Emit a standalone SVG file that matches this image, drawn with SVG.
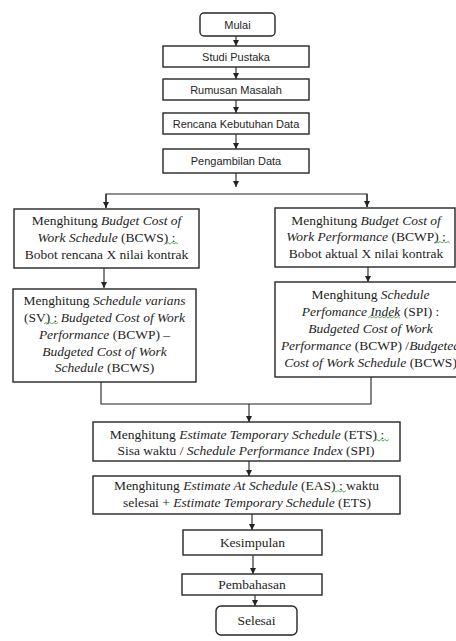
<svg xmlns="http://www.w3.org/2000/svg" width="456" height="641" viewBox="0 0 456 641">
<style>
  .box { fill: #ffffff; stroke: #262626; stroke-width: 1.4; }
  .sans { font-family: "Liberation Sans", Arial, sans-serif; font-size: 11px; fill: #262626; text-anchor: middle; }
  .serif { font-family: "Liberation Serif", "Times New Roman", serif; font-size: 13.5px; fill: #1e1e1e; text-anchor: middle; }
  .i { font-style: italic; }
  .conn { fill: none; stroke: #222222; stroke-width: 1.1; }
  .sq { fill: none; stroke: #3a9a3a; stroke-width: 0.8; }
</style>
<defs>
  <marker id="arr" viewBox="0 0 6 6" refX="6" refY="3" markerWidth="6" markerHeight="6" markerUnits="userSpaceOnUse" orient="auto">
    <path d="M0,0 L6,3 L0,6 z" fill="#222222"/>
  </marker>
</defs>
<rect width="456" height="641" fill="#ffffff"/>

<g id="connectors">
  <line class="conn" x1="236" y1="36" x2="236" y2="46" marker-end="url(#arr)"/>
  <line class="conn" x1="236" y1="67" x2="236" y2="79" marker-end="url(#arr)"/>
  <line class="conn" x1="236" y1="100" x2="236" y2="113" marker-end="url(#arr)"/>
  <line class="conn" x1="236" y1="134" x2="236" y2="149" marker-end="url(#arr)"/>
  <line class="conn" x1="236" y1="173" x2="236" y2="187" marker-end="url(#arr)"/>
  <polyline class="conn" points="106,208 106,194 367,194 367,207" />
  <line class="conn" x1="106" y1="194" x2="106" y2="208" marker-end="url(#arr)"/>
  <line class="conn" x1="367" y1="194" x2="367" y2="207" marker-end="url(#arr)"/>
  <line class="conn" x1="104" y1="268" x2="104" y2="288" marker-end="url(#arr)"/>
  <line class="conn" x1="368" y1="267" x2="368" y2="282" marker-end="url(#arr)"/>
  <polyline class="conn" points="101,382 101,404 371,404 371,377" />
  <line class="conn" x1="249" y1="404" x2="249" y2="422" marker-end="url(#arr)"/>
  <line class="conn" x1="249" y1="461" x2="249" y2="476" marker-end="url(#arr)"/>
  <line class="conn" x1="252" y1="514" x2="252" y2="530" marker-end="url(#arr)"/>
  <line class="conn" x1="253" y1="555" x2="253" y2="574" marker-end="url(#arr)"/>
  <line class="conn" x1="255" y1="595" x2="255" y2="606" marker-end="url(#arr)"/>
</g>

<g id="mulai">
  <rect class="box" x="200" y="13" width="75" height="23" rx="4"/>
  <text class="sans" x="237.5" y="28.5">Mulai</text>
</g>
<g id="studi-pustaka">
  <rect class="box" x="163" y="46" width="146" height="21"/>
  <text class="sans" x="236" y="60.5">Studi Pustaka</text>
</g>
<g id="rumusan-masalah">
  <rect class="box" x="163" y="79" width="146" height="21"/>
  <text class="sans" x="236" y="93.5">Rumusan Masalah</text>
</g>
<g id="rencana-kebutuhan-data">
  <rect class="box" x="163" y="113" width="146" height="21"/>
  <text class="sans" x="236" y="127.5">Rencana Kebutuhan Data</text>
</g>
<g id="pengambilan-data">
  <rect class="box" x="163" y="149" width="146" height="24"/>
  <text class="sans" x="236" y="165">Pengambilan Data</text>
</g>

<g id="bcws">
  <rect class="box" x="14" y="209" width="185" height="59"/>
  <text class="serif" x="106.5" y="225">Menghitung <tspan class="i">Budget Cost of</tspan></text>
  <text class="serif" x="106.5" y="242"><tspan class="i">Work Schedule</tspan> (BCWS) :</text>
  <text class="serif" x="106.5" y="259">Bobot rencana X nilai kontrak</text>
  <path class="sq" d="M166,244 l2,-1.5 l2,1.5 l2,-1.5 l2,1.5 l2,-1.5 l2,1.5"/>
</g>

<g id="bcwp">
  <rect class="box" x="275" y="208" width="180" height="59"/>
  <text class="serif" x="366" y="225">Menghitung <tspan class="i">Budget Cost of</tspan></text>
  <text class="serif" x="366" y="241"><tspan class="i">Work Performance</tspan> (BCWP) :</text>
  <text class="serif" x="366" y="258">Bobot aktual X nilai kontrak</text>
  <path class="sq" d="M434,243 l2,-1.5 l2,1.5 l2,-1.5 l2,1.5 l2,-1.5 l2,1.5 l2,-1.5 l2,1.5"/>
</g>

<g id="sv">
  <rect class="box" x="13" y="289" width="183" height="93"/>
  <text class="serif" x="104.5" y="305">Menghitung <tspan class="i">Schedule varians</tspan></text>
  <text class="serif" x="104.5" y="322">(SV) : <tspan class="i">Budgeted Cost of Work</tspan></text>
  <text class="serif" x="104.5" y="339"><tspan class="i">Performance</tspan> (BCWP) –</text>
  <text class="serif" x="104.5" y="356"><tspan class="i">Budgeted Cost of Work</tspan></text>
  <text class="serif" x="104.5" y="372"><tspan class="i">Schedule</tspan> (BCWS)</text>
  <path class="sq" d="M44,324 l2,-1.5 l2,1.5 l2,-1.5 l2,1.5 l2,-1.5 l2,1.5 l2,-1.5"/>
</g>

<g id="spi">
  <rect class="box" x="275" y="282" width="191" height="95"/>
  <text class="serif" x="370.5" y="299">Menghitung <tspan class="i">Schedule</tspan></text>
  <text class="serif" x="370.5" y="316"><tspan class="i">Perfomance Indek</tspan> (SPI) :</text>
  <text class="serif" x="370.5" y="333"><tspan class="i">Budgeted Cost of Work</tspan></text>
  <text class="serif" x="370.5" y="350"><tspan class="i">Performance</tspan> (BCWP) /<tspan class="i">Budgeted</tspan></text>
  <text class="serif" x="370.5" y="367"><tspan class="i">Cost of Work Schedule</tspan> (BCWS)</text>
  <path class="sq" d="M368,318 l2,-1.5 l2,1.5 l2,-1.5 l2,1.5 l2,-1.5 l2,1.5 l2,-1.5 l2,1.5 l2,-1.5 l2,1.5 l2,-1.5 l2,1.5 l2,-1.5 l2,1.5 l2,-1.5 l2,1.5"/>
</g>

<g id="ets">
  <rect class="box" x="93" y="422" width="307" height="39"/>
  <text class="serif" x="247" y="439">Menghitung <tspan class="i">Estimate Temporary Schedule</tspan> (ETS) :</text>
  <text class="serif" x="246" y="455">Sisa waktu / <tspan class="i">Schedule Performance Index</tspan> (SPI)</text>
  <path class="sq" d="M375,441 l2,-1.5 l2,1.5 l2,-1.5 l2,1.5 l2,-1.5 l2,1.5 l2,-1.5"/>
</g>

<g id="eas">
  <rect class="box" x="93" y="476" width="307" height="38"/>
  <text class="serif" x="246.5" y="490">Menghitung <tspan class="i">Estimate At Schedule</tspan> (EAS) :  waktu</text>
  <text class="serif" x="247" y="507">selesai + <tspan class="i">Estimate Temporary Schedule</tspan> (ETS)</text>
  <path class="sq" d="M332,492 l2,-1.5 l2,1.5 l2,-1.5 l2,1.5 l2,-1.5 l2,1.5 l2,-1.5"/>
</g>

<g id="kesimpulan">
  <rect class="box" x="183" y="530" width="139" height="25"/>
  <text class="serif" x="252.5" y="547">Kesimpulan</text>
</g>
<g id="pembahasan">
  <rect class="box" x="182" y="574" width="140" height="21"/>
  <text class="serif" x="252" y="589">Pembahasan</text>
</g>
<g id="selesai">
  <rect class="box" x="216" y="606" width="81" height="29" rx="5"/>
  <text class="serif" x="256.5" y="625">Selesai</text>
</g>
</svg>
